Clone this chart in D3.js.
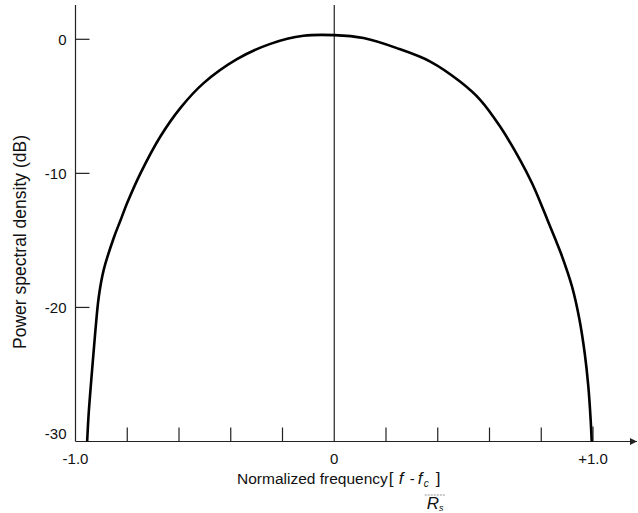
<!DOCTYPE html>
<html>
<head>
<meta charset="utf-8">
<script src="https://cdn.jsdelivr.net/npm/d3@7"></script>
<style>
  html, body { margin: 0; padding: 0; background: #fff; }
  svg { display: block; }
  text { font-family: "Liberation Sans", Arial, Helvetica, sans-serif; fill: #111; }
</style>
</head>
<body>
<svg id="chart" width="638" height="513"></svg>
<script>
// Normalized frequency (f - fc)/Rs and power spectral density in dB
const freq = [-0.955, -0.949, -0.936, -0.923, -0.910, -0.891, -0.852, -0.826, -0.800, -0.749,
              -0.672, -0.595, -0.505, -0.376, -0.247, -0.119, 0.000, 0.113, 0.242, 0.371,
              0.486, 0.564, 0.641, 0.718, 0.764, 0.793, 0.824, 0.853, 0.876, 0.919,
              0.948, 0.968, 0.982, 0.991, 0.995];
const psd  = [-30.0, -27.9, -24.7, -21.7, -19.2, -17.2, -14.8, -13.5, -12.2, -10.0,
              -7.25, -5.13, -3.27, -1.48, -0.34, 0.26, 0.31, 0.09, -0.66, -1.66,
              -3.15, -4.51, -6.51, -8.99, -10.72, -12.0, -13.47, -14.84, -15.96, -18.45,
              -20.93, -23.42, -25.9, -28.4, -30.0];

const yTicks = [0, -10, -20, -30];
const yTickLabels = ["0", "-10", "-20", "-30"];
const xMinorTicks = [-0.8, -0.6, -0.4, -0.2, 0.2, 0.4, 0.6, 0.8, 1.0];
const xTickLabels = [[-1.0, "-1.0"], [0, "0"], [1.0, "+1.0"]];

const svg = d3.select("#chart");
const x = d3.scaleLinear().domain([-1, 1]).range([75.5, 593]);
const y = d3.scaleLinear().domain([-30, 0]).range([441.5, 39.3]);
const yTop = 2.55;

const axisColor = "#222";

// y axis line
svg.append("line")
  .attr("x1", x(-1)).attr("x2", x(-1))
  .attr("y1", y(yTop)).attr("y2", y(-30))
  .attr("stroke", axisColor).attr("stroke-width", 1.2);

// y ticks pointing inward
svg.selectAll("line.ytick").data(yTicks.filter(v => v > -30)).join("line")
  .attr("class", "ytick")
  .attr("x1", x(-1)).attr("x2", x(-1) + 14)
  .attr("y1", d => y(d)).attr("y2", d => y(d))
  .attr("stroke", axisColor).attr("stroke-width", 1.2);

svg.selectAll("text.ylab").data(yTicks).join("text")
  .attr("class", "ylab")
  .attr("x", x(-1) - 9)
  .attr("y", d => Math.min(y(d), y(-30) - 8))
  .attr("dy", "0.35em")
  .attr("text-anchor", "end")
  .attr("font-size", 15)
  .text((d, i) => yTickLabels[i]);

// centre line at zero frequency
svg.append("line")
  .attr("x1", x(0)).attr("x2", x(0))
  .attr("y1", y(yTop)).attr("y2", y(-30))
  .attr("stroke", axisColor).attr("stroke-width", 1.2);

// x axis with arrow
svg.append("defs").append("marker")
  .attr("id", "arrow").attr("viewBox", "0 0 10 10")
  .attr("refX", 10).attr("refY", 5)
  .attr("markerWidth", 9).attr("markerHeight", 7)
  .attr("markerUnits", "userSpaceOnUse")
  .attr("orient", "auto")
  .append("path").attr("d", "M0,0 L10,5 L0,10 Z").attr("fill", axisColor);

svg.append("line")
  .attr("x1", x(-1)).attr("x2", 637)
  .attr("y1", y(-30)).attr("y2", y(-30))
  .attr("stroke", axisColor).attr("stroke-width", 1.2)
  .attr("marker-end", "url(#arrow)");

svg.selectAll("line.xtick").data(xMinorTicks).join("line")
  .attr("class", "xtick")
  .attr("x1", d => x(d)).attr("x2", d => x(d))
  .attr("y1", y(-30)).attr("y2", d => y(-30) - (d === 1.0 ? 15 : 14))
  .attr("stroke", axisColor).attr("stroke-width", 1.2);

svg.selectAll("text.xlab").data(xTickLabels).join("text")
  .attr("class", "xlab")
  .attr("x", d => x(d[0]))
  .attr("y", y(-30) + 22)
  .attr("text-anchor", "middle")
  .attr("font-size", 15)
  .text(d => d[1]);

// spectrum curve
const pts = freq.map((f, i) => [f, psd[i]]);
const line = d3.line()
  .x(d => x(d[0])).y(d => y(d[1]))
  .curve(d3.curveCatmullRom.alpha(0.5));
svg.append("path")
  .attr("d", line(pts))
  .attr("fill", "none")
  .attr("stroke", "#000")
  .attr("stroke-width", 2.6)
  .attr("stroke-linejoin", "round");

// y axis title
svg.append("text")
  .attr("transform", "translate(26, 242) rotate(-90)")
  .attr("text-anchor", "middle")
  .attr("font-size", 17.5)
  .text("Power spectral density (dB)");

// x axis title followed by the fraction (f - fc) / Rs
const serif = '"Liberation Serif", "Times New Roman", serif';
const titleY = 484;
const title = svg.append("text")
  .attr("x", 237).attr("y", titleY)
  .attr("font-size", 15.5)
  .text("Normalized frequency");
const bx = 237 + title.node().getComputedTextLength() + 1;

const numer = svg.append("g").attr("font-family", serif);
numer.append("text").attr("x", bx).attr("y", titleY).attr("font-size", 17).text("[");
numer.append("text").attr("x", bx + 10).attr("y", titleY).attr("font-size", 17)
  .attr("font-style", "italic").text("f");
numer.append("text").attr("x", bx + 21).attr("y", titleY).attr("font-size", 15).text("-");
numer.append("text").attr("x", bx + 29).attr("y", titleY).attr("font-size", 17)
  .attr("font-style", "italic").text("f");
numer.append("text").attr("x", bx + 35).attr("y", titleY + 3).attr("font-size", 10)
  .attr("font-style", "italic").text("c");
numer.append("text").attr("x", bx + 47).attr("y", titleY).attr("font-size", 17).text("]");

svg.append("line")
  .attr("x1", bx + 36).attr("x2", bx + 56)
  .attr("y1", titleY + 11).attr("y2", titleY + 11)
  .attr("stroke", "#777").attr("stroke-width", 0.8)
  .attr("stroke-dasharray", "2,1");

const rs = svg.append("text")
  .attr("x", bx + 38).attr("y", 509)
  .attr("font-family", serif).attr("font-style", "italic").attr("font-size", 17);
rs.append("tspan").text("R");
rs.append("tspan").attr("font-size", 9).attr("dy", 2).text("s");
</script>
</body>
</html>
